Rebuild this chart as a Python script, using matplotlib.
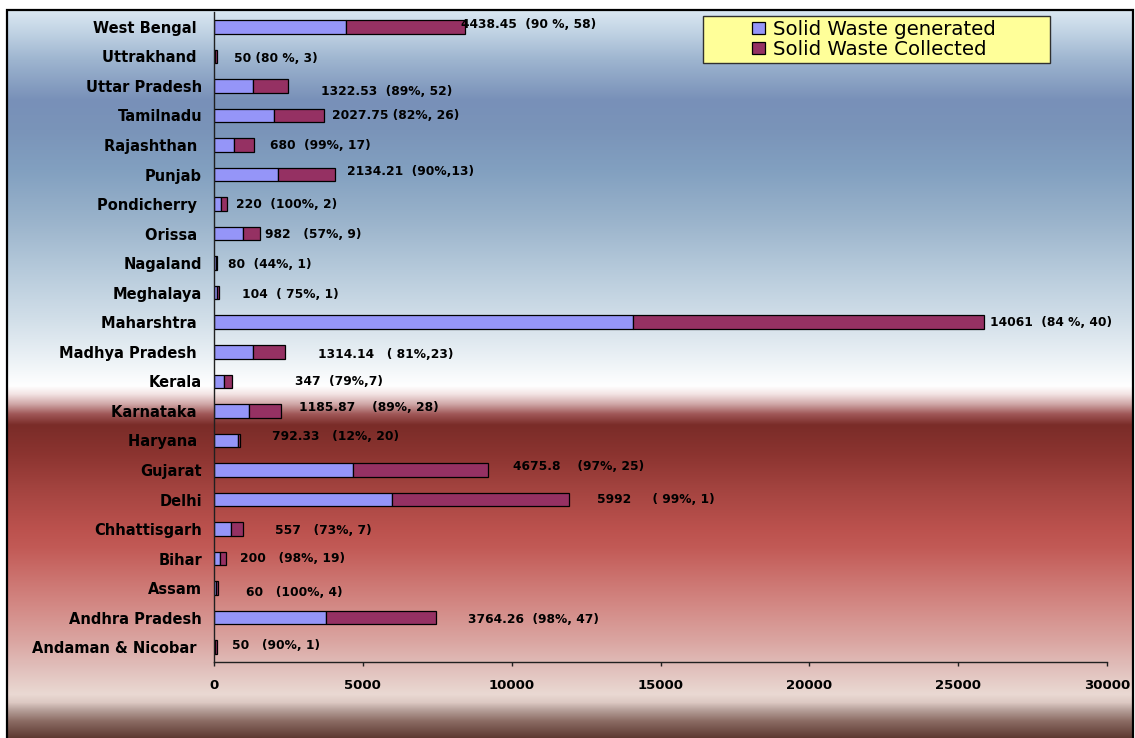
import matplotlib
matplotlib.use('Agg')
import matplotlib.pyplot as plt
import numpy as np
from matplotlib.colors import to_rgb
from matplotlib.patches import Rectangle, Patch

# ---------------- data (bottom to top) ----------------
categories = ["Andaman & Nicobar ", "Andhra Pradesh", "Assam", "Bihar", "Chhattisgarh",
              "Delhi", "Gujarat", "Haryana ", "Karnataka ", "Kerala", "Madhya Pradesh ",
              "Maharshtra ", "Meghalaya", "Nagaland", "Orissa ", "Pondicherry ", "Punjab",
              "Rajashthan ", "Tamilnadu", "Uttar Pradesh", "Uttrakhand ", "West Bengal "]
generated = [50, 3764.26, 60, 200, 557, 5992, 4675.8, 792.33, 1185.87, 347, 1314.14,
             14061, 104, 80, 982, 220, 2134.21, 680, 2027.75, 1322.53, 50, 4438.45]
collected = [45, 3689, 60, 196, 407, 5932, 4536, 95, 1055, 274, 1064,
             11811, 78, 35, 560, 220, 1921, 673, 1663, 1177, 40, 3995]
bar_labels = ["50   (90%, 1)", "3764.26  (98%, 47)", "60   (100%, 4)", "200   (98%, 19)",
              "557   (73%, 7)", "5992     ( 99%, 1)", "4675.8    (97%, 25)",
              "792.33   (12%, 20)", "1185.87    (89%, 28)", "347  (79%,7)",
              "1314.14   ( 81%,23)", "14061  (84 %, 40)", "104  ( 75%, 1)", "80  (44%, 1)",
              "982   (57%, 9)", "220  (100%, 2)", "2134.21  (90%,13)", "680  (99%, 17)",
              "2027.75 (82%, 26)", "1322.53  (89%, 52)", "50 (80 %, 3)", "4438.45  (90 %, 58)"]
series_names = ["Solid Waste generated", "Solid Waste Collected"]
xticks = [0, 5000, 10000, 15000, 20000, 25000, 30000]

# label placement (layout only): x start in data units, vertical shift in pixels (down +)
label_x = [605, 8533, 1075, 873, 2049, 12867, 10045, 1948, 2856, 2721, 3494,
           26069, 941, 470, 1700, 739, 4468, 1881, 3964, 3595, 672, 8300]
label_dy = [-2, 1.5, 4, 0, 1, 0, -3, -4, -3, 0, 3, 0, 2, 1, 1, 0, -2.7, 1, 0, 6, 2.5, -2]

# ---------------- figure ----------------
W, H = 1135, 738
fig = plt.figure(figsize=(W / 100, H / 100), dpi=100)
fig.patch.set_facecolor('white')

# gradient background inside frame
stops = [(10, '#dae7f2'), (30, '#c3d5e5'), (60, '#9db4cf'), (100, '#7890b8'),
         (130, '#7a94b9'), (170, '#82a0c0'), (220, '#9ab3cb'), (270, '#b6cadb'),
         (320, '#d2dfe9'), (360, '#ecf2f6'), (386, '#ffffff'), (394, '#f3e4e4'),
         (404, '#d0a8a8'), (414, '#a05858'), (425, '#7a2c28'), (455, '#8c3430'),
         (490, '#a44440'), (530, '#bc524e'), (548, '#c25a56'), (580, '#cc7470'),
         (610, '#d48c88'), (640, '#daa4a0'), (665, '#e0bcb8'), (695, '#ead9d3'),
         (703, '#dcc8c2'), (710, '#b8a29c'), (722, '#8a6a62'), (738, '#5e3a32')]
ys = np.arange(10, 739)
sy = np.array([s[0] for s in stops], float)
sc = np.array([to_rgb(s[1]) for s in stops])
grad = np.stack([np.interp(ys, sy, sc[:, k]) for k in range(3)], axis=-1)[:, None, :]
bg = fig.add_axes([7 / W, 0, (1133 - 7) / W, (738 - 10) / H])
bg.imshow(grad, aspect='auto', extent=[0, 1, 0, 1], interpolation='bilinear')
bg.set_axis_off()
bg.set_zorder(0)
fig.patches.append(Rectangle((7 / W, -0.01), (1133 - 7) / W, (738 - 10) / H + 0.01,
                             transform=fig.transFigure, fill=False, edgecolor='black',
                             linewidth=1.6, zorder=1))

ax = fig.add_axes([214 / W, (738 - 662) / H, (1107 - 214) / W, (662 - 12) / H])
ax.set_zorder(2)
ax.patch.set_alpha(0)

y = np.arange(len(categories))
c_gen, c_col = '#9595f8', '#953163'
ax.barh(y, generated, height=0.46, color=c_gen, edgecolor='black', linewidth=0.9)
ax.barh(y, collected, left=generated, height=0.46, color=c_col, edgecolor='black', linewidth=0.9)

for i in range(len(categories)):
    ax.annotate(bar_labels[i], xy=(label_x[i], y[i]), xytext=(0, -label_dy[i] * 0.72),
                textcoords='offset points', ha='left', va='center',
                fontsize=8.8, fontweight='bold', family='DejaVu Sans', color='black')

ax.set_xlim(0, 30000)
ax.set_ylim(-0.5, len(categories) - 0.5)
ax.set_xticks(xticks)
ax.set_xticklabels([str(t) for t in xticks], fontsize=9.5, fontweight='bold', family='DejaVu Sans')
ax.set_yticks(y)
ax.set_yticklabels(categories, fontsize=10.5, fontweight='bold', family='DejaVu Sans')
ax.tick_params(axis='x', direction='out', length=3, width=1, color='#202020', pad=9.5)
ax.tick_params(axis='y', length=0, pad=8.6)
for s in ['top', 'right']:
    ax.spines[s].set_visible(False)
for s in ['left', 'bottom']:
    ax.spines[s].set_color('#202020')
    ax.spines[s].set_linewidth(1.0)

# legend
fig.patches.append(Rectangle((703 / W, 1 - 63 / H), (1050 - 703) / W, (63 - 16) / H,
                             transform=fig.transFigure, facecolor='#ffff99', edgecolor='#303030',
                             linewidth=1.0, zorder=3))
handles = [Patch(facecolor=c_gen, edgecolor='black', linewidth=0.9),
           Patch(facecolor=c_col, edgecolor='black', linewidth=0.9)]
leg = fig.legend(handles, series_names, loc='center left',
                 bbox_to_anchor=(752 / W, 1 - 39.5 / H), frameon=False, borderpad=0,
                 prop={'family': 'DejaVu Sans', 'size': 14.2}, handlelength=0.65,
                 handleheight=0.55, handletextpad=0.4, labelspacing=0.04, borderaxespad=0)
leg.set_zorder(4)

fig.savefig('out.png', dpi=100, facecolor='white')
